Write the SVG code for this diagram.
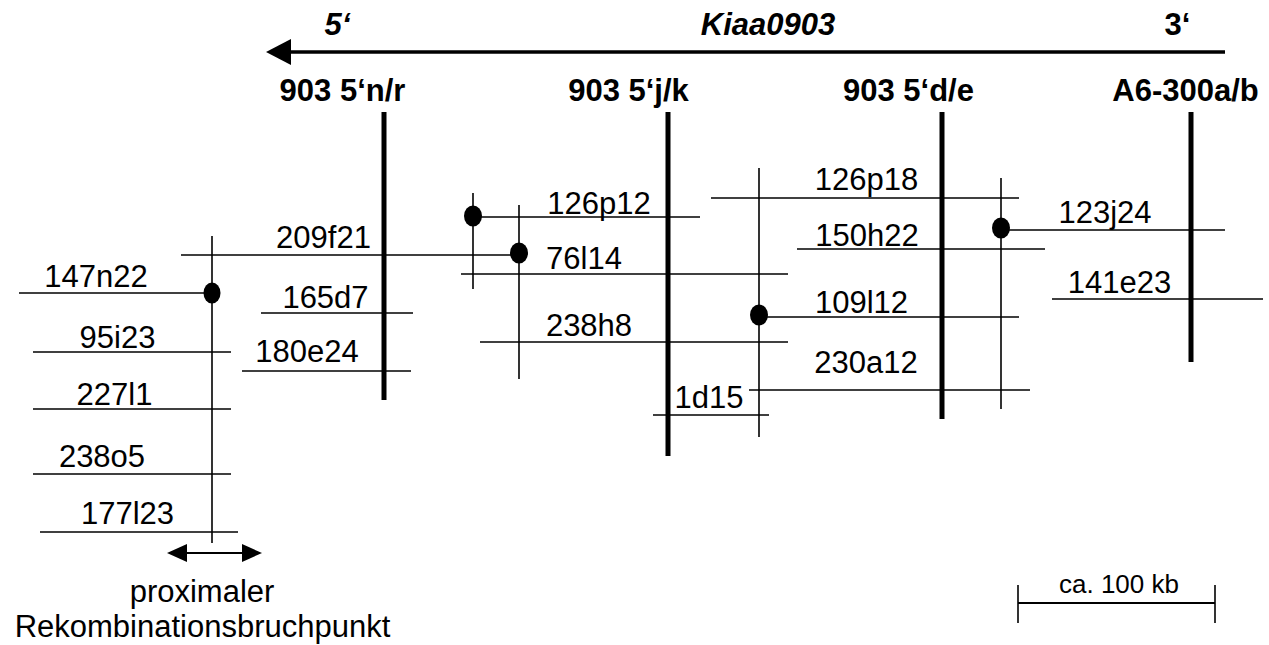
<svg xmlns="http://www.w3.org/2000/svg" width="1269" height="645" viewBox="0 0 1269 645">
<defs>
<style>
text{font-family:"Liberation Sans",Arial,sans-serif;fill:#000;text-anchor:middle}
.lbl{font-size:31px}
.hdr{font-size:31px;font-weight:bold}
.it{font-style:italic}
.bar{stroke:#000;stroke-width:5}
.thin{stroke:#000;stroke-width:1.6}
.dot{fill:#000}
.head{fill:#000}
</style>
</defs>
<rect width="1269" height="645" fill="#fff"/>

<g id="gene">
<line x1="1225" y1="52" x2="290" y2="52" stroke="#000" stroke-width="3.5"/>
<path class="head" d="M266,52L291,39L291,65Z"/>
<text class="hdr it" x="337.5" y="35">5‘</text>
<text class="hdr it" x="768" y="35">Kiaa0903</text>
<text class="hdr" x="1177.5" y="35">3‘</text>
</g>

<g id="marker-nr">
<line class="bar" x1="384" y1="112" x2="384" y2="400"/>
<text class="hdr" x="342.5" y="101">903 5‘n/r</text>
</g>
<g id="marker-jk">
<line class="bar" x1="668" y1="112" x2="668" y2="456"/>
<text class="hdr" x="628.5" y="101">903 5‘j/k</text>
</g>
<g id="marker-de">
<line class="bar" x1="942" y1="112" x2="942" y2="419"/>
<text class="hdr" x="908.5" y="101">903 5‘d/e</text>
</g>
<g id="marker-a6">
<line class="bar" x1="1191" y1="112" x2="1191" y2="362"/>
<text class="hdr" x="1185.5" y="101">A6-300a/b</text>
</g>

<g id="connectors">
<line class="thin" x1="212" y1="236" x2="212" y2="543"/>
<line class="thin" x1="473" y1="193" x2="473" y2="289"/>
<line class="thin" x1="519" y1="205" x2="519" y2="379"/>
<line class="thin" x1="759" y1="168" x2="759" y2="437"/>
<line class="thin" x1="1001" y1="178" x2="1001" y2="409"/>
</g>

<g id="c147n22"><line class="thin" x1="19" y1="293" x2="212" y2="293"/><ellipse class="dot" cx="212" cy="293" rx="8.5" ry="10.5"/><text class="lbl" x="96" y="287">147n22</text></g>
<g id="c209f21"><line class="thin" x1="181" y1="255" x2="519" y2="255"/><text class="lbl" x="323.5" y="248">209f21</text></g>
<g id="c165d7"><line class="thin" x1="261" y1="313" x2="413" y2="313"/><text class="lbl" x="325.5" y="308">165d7</text></g>
<g id="c95i23"><line class="thin" x1="33" y1="352" x2="231" y2="352"/><text class="lbl" x="117.5" y="348">95i23</text></g>
<g id="c180e24"><line class="thin" x1="242" y1="371" x2="411" y2="371"/><text class="lbl" x="307" y="362">180e24</text></g>
<g id="c227l1"><line class="thin" x1="33" y1="409" x2="231" y2="409"/><text class="lbl" x="114.5" y="405">227l1</text></g>
<g id="c238o5"><line class="thin" x1="33" y1="474" x2="231" y2="474"/><text class="lbl" x="102" y="467">238o5</text></g>
<g id="c177l23"><line class="thin" x1="40" y1="532" x2="238" y2="532"/><text class="lbl" x="127.5" y="524">177l23</text></g>

<g id="c126p12"><line class="thin" x1="473" y1="217" x2="700" y2="217"/><ellipse class="dot" cx="473" cy="216" rx="9" ry="10.5"/><text class="lbl" x="599" y="214">126p12</text></g>
<g id="c76l14"><line class="thin" x1="461" y1="274" x2="788" y2="274"/><ellipse class="dot" cx="519" cy="253" rx="9" ry="10.5"/><text class="lbl" x="584" y="269">76l14</text></g>
<g id="c238h8"><line class="thin" x1="480" y1="342" x2="788" y2="342"/><text class="lbl" x="589" y="336">238h8</text></g>
<g id="c1d15"><line class="thin" x1="653" y1="415" x2="769" y2="415"/><text class="lbl" x="709" y="408">1d15</text></g>

<g id="c126p18"><line class="thin" x1="711" y1="198" x2="1019" y2="198"/><text class="lbl" x="866.5" y="190">126p18</text></g>
<g id="c150h22"><line class="thin" x1="797" y1="249" x2="1045" y2="249"/><text class="lbl" x="867" y="246">150h22</text></g>
<g id="c109l12"><line class="thin" x1="759" y1="317" x2="1019" y2="317"/><ellipse class="dot" cx="759" cy="315" rx="9" ry="10.5"/><text class="lbl" x="861.5" y="313">109l12</text></g>
<g id="c230a12"><line class="thin" x1="749" y1="390" x2="1030" y2="390"/><text class="lbl" x="866" y="373">230a12</text></g>
<g id="c123j24"><line class="thin" x1="1001" y1="230" x2="1225" y2="230"/><ellipse class="dot" cx="1001" cy="228" rx="9" ry="10.5"/><text class="lbl" x="1105" y="223">123j24</text></g>
<g id="c141e23"><line class="thin" x1="1052" y1="299" x2="1263" y2="299"/><text class="lbl" x="1119.5" y="293">141e23</text></g>

<g id="breakpoint">
<line x1="186" y1="553" x2="243" y2="553" stroke="#000" stroke-width="2"/>
<path class="head" d="M167,553L187,544L187,562Z"/>
<path class="head" d="M262,553L242,544L242,562Z"/>
<text class="lbl" x="202" y="602">proximaler</text>
<text class="lbl" x="202.5" y="637">Rekombinationsbruchpunkt</text>
</g>

<g id="scale">
<line x1="1018" y1="603" x2="1215" y2="603" stroke="#000" stroke-width="2"/>
<line x1="1018" y1="585" x2="1018" y2="623" stroke="#000" stroke-width="1.6"/>
<line x1="1215" y1="585" x2="1215" y2="623" stroke="#000" stroke-width="1.6"/>
<text x="1119" y="593" style="font-size:26px">ca. 100 kb</text>
</g>
</svg>
